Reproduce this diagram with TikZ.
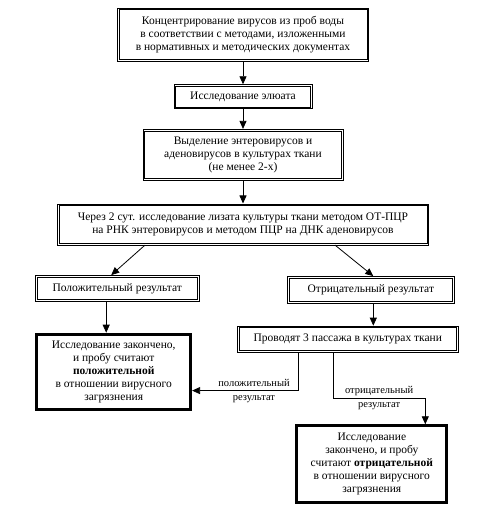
\documentclass[tikz,border=0pt]{standalone}
\usepackage{fontspec}
\setmainfont{Liberation Serif}
\usepackage{tikz}
\usetikzlibrary{positioning}
\usetikzlibrary{arrows.meta}
\tikzstyle{block} = [rectangle, draw, line width=0.6pt, align=center, inner sep=2pt,
                font=\fontsize{11.5}{13}\selectfont,
                append after command={\pgfextra{\draw[line width=0.6pt]
                ([shift={(2pt,2pt)}]\tikzlastnode.south west) rectangle
                ([shift={(-2pt,-2pt)}]\tikzlastnode.north east);}}]
\tikzstyle{result} = [rectangle, draw, line width=2.8pt,
                align=center, inner sep=2pt, font=\fontsize{11.5}{13}\selectfont]
\tikzstyle{line} = [draw, line width=0.8pt, -{Triangle[length=8pt,width=7pt]}]
\tikzstyle{branch} = [align=center, inner sep=0pt, font=\fontsize{10.5}{14}\selectfont]

\begin{document}
\begin{tikzpicture}
            \useasboundingbox (0,0) rectangle (479pt,-521pt);
            \node[block, minimum width=251pt, minimum height=53pt](conc) at (243pt,-34.5pt){Концентрирование вирусов из проб воды\\ в соответствии с методами, изложенными\\ в нормативных и методических документах};
            \node[block, below=23pt of conc, minimum width=138pt, minimum height=24pt](eluate){Исследование элюата};
            \node[block, below=20pt of eluate, minimum width=200pt, minimum height=51pt](isol){Выделение энтеровирусов и\\ аденовирусов в культурах ткани\\ (не менее 2-х)};
            \node[block, below=23pt of isol, minimum width=371pt, minimum height=41pt](pcr){Через 2 сут. исследование лизата культуры ткани методом ОТ-ПЦР\\ на РНК энтеровирусов и методом ПЦР на ДНК аденовирусов};
            \node[block, below=30pt of pcr.south west, xshift=60pt, minimum width=164pt, minimum height=26pt](pos){Положительный результат};
            \node[block, below=31pt of pcr.south east, xshift=-58pt, minimum width=167pt, minimum height=27pt](neg){Отрицательный результат};
            \node[result, below=31pt of pos, xshift=-3.5pt, minimum width=154pt, minimum height=75pt](posend){Исследование закончено,\\ и пробу считают\\ \textbf{положительной}\\ в отношении вирусного\\ загрязнения};
            \node[block, below=22pt of neg, xshift=-23pt, minimum width=221pt, minimum height=26pt](pass){Проводят 3 пассажа в культурах ткани};
            \node[result, below=72pt of pass, xshift=24pt, minimum width=150pt, minimum height=77pt](negend){Исследование\\ закончено, и пробу\\ считают \textbf{отрицательной}\\ в отношении вирусного\\ загрязнения};
            \path[line] (conc) -- (eluate);
            \path[line] (eluate) -- (isol);
            \path[line] (isol) -- (pcr);
            \path[line] ([xshift=-98pt]pcr.south) -- ([xshift=-6pt]pos.north);
            \path[line] ([xshift=92pt]pcr.south) -- ([xshift=2.5pt]neg.north);
            \path[line] ([xshift=-11pt]pos.south) -- ([xshift=-11pt]pos.south |- posend.north);
            \path[line] ([xshift=2.5pt]neg.south) -- ([xshift=2.5pt]neg.south |- pass.north);
            \path[line] ([xshift=-49pt]pass.south) |- ([yshift=-19pt]posend.east)
                node[branch, pos=0.71]{положительный\\ результат};
            \path[line] ([xshift=-14pt]pass.south) -- ++(0,-46pt) coordinate(turn)
                -| ([xshift=53.5pt]negend.north);
            \node[branch, right=11pt of turn](negtext){отрицательный\\ результат};
        \end{tikzpicture}
\end{document}
